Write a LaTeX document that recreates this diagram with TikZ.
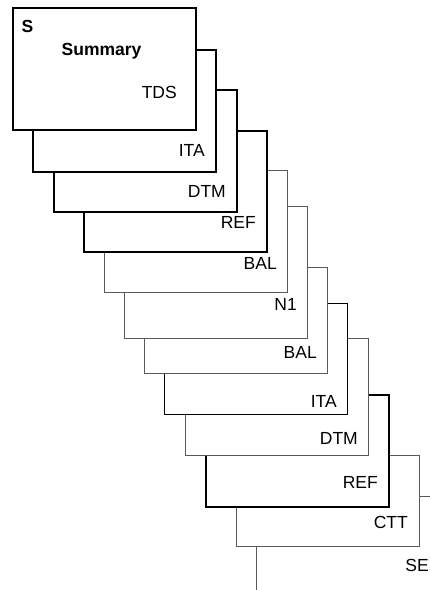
\documentclass[tikz,border=0pt]{standalone}
\usepackage{fontspec}
\setmainfont{Liberation Sans}
\usetikzlibrary{positioning}

\tikzset{
  card/.style={rectangle, draw, fill=white, anchor=north west, inner sep=0pt,
    minimum width=183pt},
  heavy/.style={card, line width=1.5pt, draw=black},
  plain/.style={card, line width=1.1pt, draw=black},
  light/.style={card, line width=1pt, draw=black!65},
  tag/.style={anchor=base east, inner sep=0pt, font=\fontsize{17.5}{20}\selectfont},
}

\begin{document}
\begin{tikzpicture}[x=1pt,y=-1pt]

        \useasboundingbox (0,0) rectangle (430,590);
        \clip (0,0) rectangle (430,590);

        % back to front
        \node[light, minimum height=124pt] (se)   at (256,496) {};
        \node[light, minimum height=91pt]  (ctt)  at (236,455) {};
        \node[heavy, minimum height=112pt] (ref2) at (205,394) {};
        \node[light, minimum height=117pt] (dtm2) at (185,338) {};
        \node[plain, minimum height=111pt] (ita2) at (164,303) {};
        \node[light, minimum height=106pt] (bal2) at (144,267) {};
        \node[light, minimum height=132pt] (n1)   at (124,206) {};
        \node[light, minimum height=122pt] (bal)  at (104,170) {};
        \node[heavy, minimum height=121pt] (ref)  at (83,130)  {};
        \node[heavy, minimum height=122pt] (dtm)  at (53,89)   {};
        \node[heavy, minimum height=122pt] (ita)  at (32,49)   {};
        \node[heavy, minimum height=122pt] (s)    at (12,7)    {};

        \begin{scope}[every node/.style={tag}]
          \node (tdsl)  at (177,98)  {TDS};
          \node (ital)  at (205,156) {ITA};
          \node (dtml)  at (226,197) {DTM};
          \node (refl)  at (256,228) {REF};
          \node (ball)  at (277,269) {BAL};
          \node (n1l)   at (297,310) {N1};
          \node (bal2l) at (317,358) {BAL};
          \node (ita2l) at (337,407) {ITA};
          \node (dtm2l) at (358,444) {DTM};
          \node (ref2l) at (378,488) {REF};
          \node (cttl)  at (408,528) {CTT};
          \node (sel)   at (429,571) {SE};
        \end{scope}

        \node[tag, anchor=base west, font=\fontsize{17.5}{20}\selectfont\bfseries] (sl) at (21.5,32.5) {S};
        \node[tag, anchor=base west, font=\fontsize{17.5}{20}\selectfont\bfseries] (suml) at (61.5,55) {Summary};

      \end{tikzpicture}
\end{document}
